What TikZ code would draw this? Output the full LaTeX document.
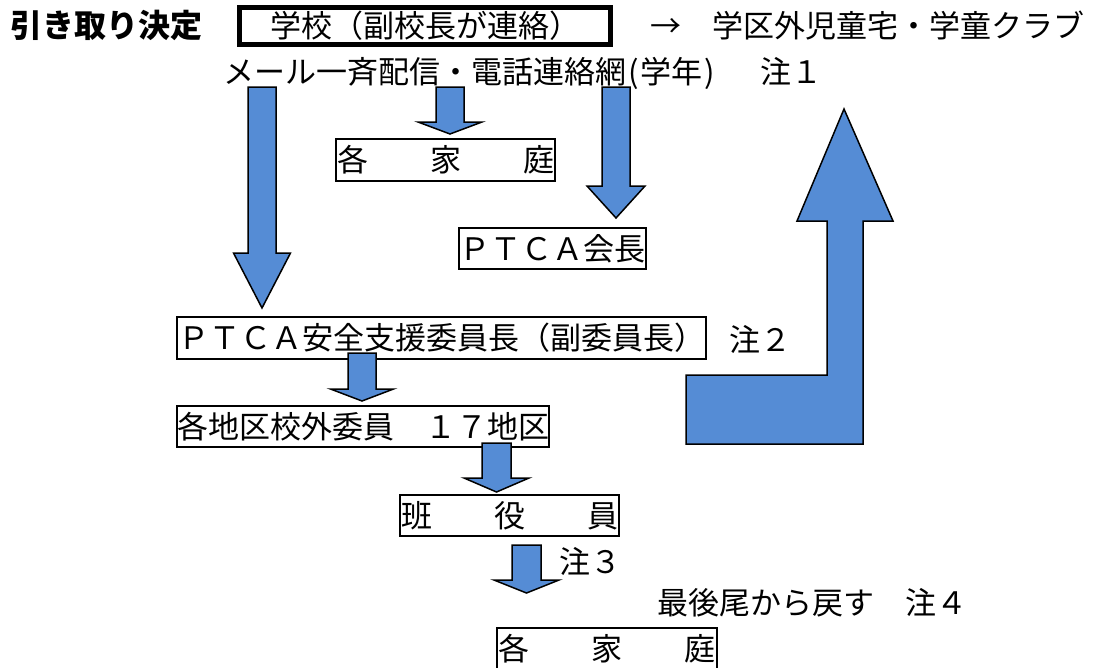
\documentclass[tikz,border=0pt]{standalone}
\usepackage{fontspec}
\setmainfont{Noto Sans CJK JP}
\definecolor{arrblue}{RGB}{85,140,213}
\newcommand{\dnarrow}[7]{%
  \coordinate (#1) at (#2,#5);
  \draw[blockarr] ({#2-#6},#3) -- ({#2+#6},#3) -- ({#2+#6},#4) -- ({#2+#7},#4)
    -- (#1) -- ({#2-#7},#4) -- ({#2-#6},#4) -- cycle;}
\begin{document}
\begin{tikzpicture}[x=1pt,y=-1pt,
  every node/.style={font=\fontsize{31}{31}\selectfont, inner sep=0pt,
    text height=27.3pt, text depth=3.7pt},
  box/.style={draw, line width=1.6pt},
  blockarr/.style={fill=arrblue, draw=black, line width=1.5pt, line join=miter}]
\useasboundingbox (0,0) rectangle (1102,667);
% header
\node[anchor=west, font=\fontsize{32}{32}\selectfont\bfseries] (decide) at (10,26) {引き取り決定};
\node[draw, line width=5pt, minimum width=371pt, minimum height=37pt] (school) at (425,26) {学校（副校長が連絡）};
\node[anchor=west] (outside) at (650,26) {→　学区外児童宅・学童クラブ};
\node[anchor=west] (mail) at (223,72) {メール一斉配信・電話連絡網\hspace{2pt}(\hspace{2pt}学年\hspace{2pt})};
\node (note1) at (791,72) {注１};
% boxes
\node[box, minimum width=219pt, minimum height=42pt] (home1) at (445.5,160) {各　　家　　庭};
\node[box, minimum width=187pt, minimum height=41pt] (ptca) at (552.5,248.5) {ＰＴＣＡ会長};
\node[box, minimum width=529pt, minimum height=42pt] (safety) at (441.5,338) {ＰＴＣＡ安全支援委員長（副委員長）};
\node (note2) at (760,340) {注２};
\node[box, minimum width=372pt, minimum height=41pt] (district) at (363,426.5) {各地区校外委員　１７地区};
\node[box, minimum width=219pt, minimum height=41pt] (han) at (509.5,515.5) {班　　役　　員};
\node (note3) at (590,562) {注３};
\node (last) at (812.5,603) {最後尾から戻す　注４};
\node[box, minimum width=220pt, minimum height=42pt] (home2) at (607,649) {各　　家　　庭};
% block arrows
\dnarrow{a1}{262}{87}{253}{308}{14}{28.5}
\dnarrow{a2}{450}{87}{122}{134}{14}{32}
\dnarrow{a3}{616}{87}{186}{218}{14}{29}
\dnarrow{a4}{362}{353}{389}{401}{14}{31.5}
\dnarrow{a5}{496.5}{443}{478}{492}{14.5}{32.5}
\dnarrow{a6}{526.5}{545}{580}{593}{14.5}{32.5}
% bent return arrow
\coordinate (ltip) at (844,109);
\draw[blockarr] (686,375) -- (827,375) -- (827,221) -- (797,221) -- (ltip)
  -- (893,221) -- (863,221) -- (863,444) -- (686,444) -- cycle;
\end{tikzpicture}
\end{document}
